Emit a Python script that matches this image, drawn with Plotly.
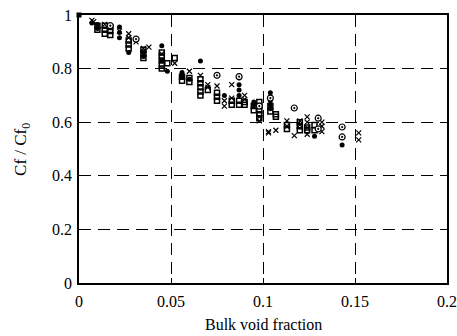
import plotly.graph_objects as go

# Filled circles
a_x = [0.007, 0.010, 0.010, 0.022, 0.022, 0.022, 0.027, 0.035, 0.035, 0.045, 0.045, 0.048,
       0.056, 0.056, 0.060, 0.066, 0.079, 0.087, 0.087, 0.087, 0.087, 0.095, 0.095,
       0.104, 0.104, 0.104, 0.104, 0.104, 0.128, 0.143]
a_y = [0.970, 0.965, 0.950, 0.955, 0.935, 0.915, 0.860, 0.860, 0.845, 0.830, 0.885, 0.790,
       0.785, 0.770, 0.760, 0.828, 0.700, 0.765, 0.740, 0.720, 0.700, 0.675, 0.665,
       0.710, 0.695, 0.680, 0.665, 0.650, 0.548, 0.515]

# Open squares
b_x = [0.010, 0.010, 0.014, 0.014, 0.014, 0.017, 0.017, 0.017, 0.027, 0.027, 0.027,
       0.035, 0.035, 0.035, 0.045, 0.045, 0.045, 0.045, 0.045, 0.048, 0.052,
       0.056, 0.056, 0.060, 0.060, 0.066, 0.066, 0.066, 0.066, 0.066, 0.070,
       0.075, 0.075, 0.075, 0.083, 0.083, 0.087, 0.087, 0.090, 0.090, 0.095, 0.095,
       0.098, 0.098, 0.098, 0.098, 0.098, 0.104, 0.104, 0.107, 0.107,
       0.113, 0.113, 0.120, 0.120, 0.120, 0.124, 0.124, 0.128, 0.128]
b_y = [0.960, 0.945, 0.960, 0.945, 0.930, 0.955, 0.940, 0.925, 0.905, 0.890, 0.875,
       0.870, 0.855, 0.840, 0.860, 0.845, 0.830, 0.815, 0.800, 0.820, 0.840,
       0.770, 0.755, 0.765, 0.750, 0.760, 0.745, 0.730, 0.715, 0.700, 0.720,
       0.710, 0.695, 0.680, 0.680, 0.665, 0.680, 0.665, 0.675, 0.665, 0.660, 0.645,
       0.675, 0.660, 0.645, 0.630, 0.615, 0.660, 0.640, 0.630, 0.620,
       0.590, 0.575, 0.600, 0.585, 0.570, 0.580, 0.570, 0.590, 0.570]

# Crosses
c_x = [0.007, 0.008, 0.014, 0.022, 0.027, 0.027, 0.031, 0.035, 0.038, 0.045, 0.052,
       0.060, 0.066, 0.070, 0.070, 0.075, 0.079, 0.079, 0.083, 0.083, 0.090, 0.090,
       0.098, 0.098, 0.103, 0.103, 0.107, 0.113, 0.113, 0.117, 0.120, 0.120,
       0.124, 0.124, 0.124, 0.124, 0.132, 0.132, 0.132, 0.152, 0.152]
c_y = [0.980, 0.975, 0.965, 0.940, 0.930, 0.915, 0.900, 0.875, 0.880, 0.855, 0.820,
       0.790, 0.775, 0.740, 0.730, 0.735, 0.680, 0.660, 0.740, 0.690, 0.700, 0.685,
       0.620, 0.605, 0.565, 0.560, 0.570, 0.605, 0.585, 0.550, 0.605, 0.590,
       0.620, 0.600, 0.580, 0.555, 0.600, 0.585, 0.565, 0.560, 0.534]

# Open circles with centre dot
d_x = [0.017, 0.031, 0.075, 0.087, 0.098, 0.104, 0.117, 0.130, 0.130, 0.143, 0.143]
d_y = [0.960, 0.910, 0.775, 0.770, 0.660, 0.690, 0.653, 0.615, 0.575, 0.582, 0.545]

# Origin point
e_x = [0.0]
e_y = [1.0]

x_ticks = [0, 0.05, 0.1, 0.15, 0.2]
x_labels = ["0", "0.05", "0.1", "0.15", "0.2"]
y_ticks = [0, 0.2, 0.4, 0.6, 0.8, 1.0]
y_labels = ["0", "0.2", "0.4", "0.6", "0.8", "1"]
x_title = "Bulk void fraction"
y_title = "Cf / Cf<sub>0</sub>"

fig = go.Figure()
fig.add_trace(go.Scatter(x=a_x, y=a_y, mode="markers",
                         marker=dict(symbol="circle", size=5, color="black")))
fig.add_trace(go.Scatter(x=b_x, y=b_y, mode="markers",
                         marker=dict(symbol="square-open", size=5, color="black",
                                     line=dict(width=1.5))))
fig.add_trace(go.Scatter(x=c_x, y=c_y, mode="markers",
                         marker=dict(symbol="x-thin-open", size=5, color="black",
                                     line=dict(width=1.2, color="black"))))
fig.add_trace(go.Scatter(x=d_x, y=d_y, mode="markers",
                         marker=dict(symbol="circle-dot", size=6, color="white",
                                     line=dict(width=1.2, color="black"))))
fig.add_trace(go.Scatter(x=e_x, y=e_y, mode="markers",
                         marker=dict(symbol="square", size=5, color="black"),
                         cliponaxis=False))

font = dict(family="Liberation Serif, Times New Roman, serif", size=16, color="black")
axis_common = dict(showline=True, linecolor="black", linewidth=1.5, mirror=True,
                   ticks="inside", ticklen=5, tickcolor="black", automargin=False,
                   showgrid=True, gridcolor="black", gridwidth=1, griddash="12px,7px",
                   zeroline=False, tickfont=font)

fig.update_layout(
    width=457, height=336,
    margin=dict(l=79, r=10, t=15, b=53),
    paper_bgcolor="white", plot_bgcolor="white",
    showlegend=False,
    font=font,
    xaxis=dict(range=[0, 0.2], tickvals=x_ticks, ticktext=x_labels,
               ticklabelstandoff=3, **axis_common),
    yaxis=dict(range=[0, 1], tickvals=y_ticks, ticktext=y_labels,
               ticklabelstandoff=2, **axis_common),
    annotations=[
        dict(text=x_title, xref="paper", yref="paper", x=0.5, y=-0.155,
             xanchor="center", yanchor="middle", showarrow=False,
             font=dict(size=16, color="black")),
        dict(text=y_title, xref="paper", yref="paper", x=-0.155, y=0.5,
             xanchor="center", yanchor="middle", showarrow=False, textangle=-90,
             font=dict(size=17, color="black")),
    ],
)
fig.write_html("out.html")
